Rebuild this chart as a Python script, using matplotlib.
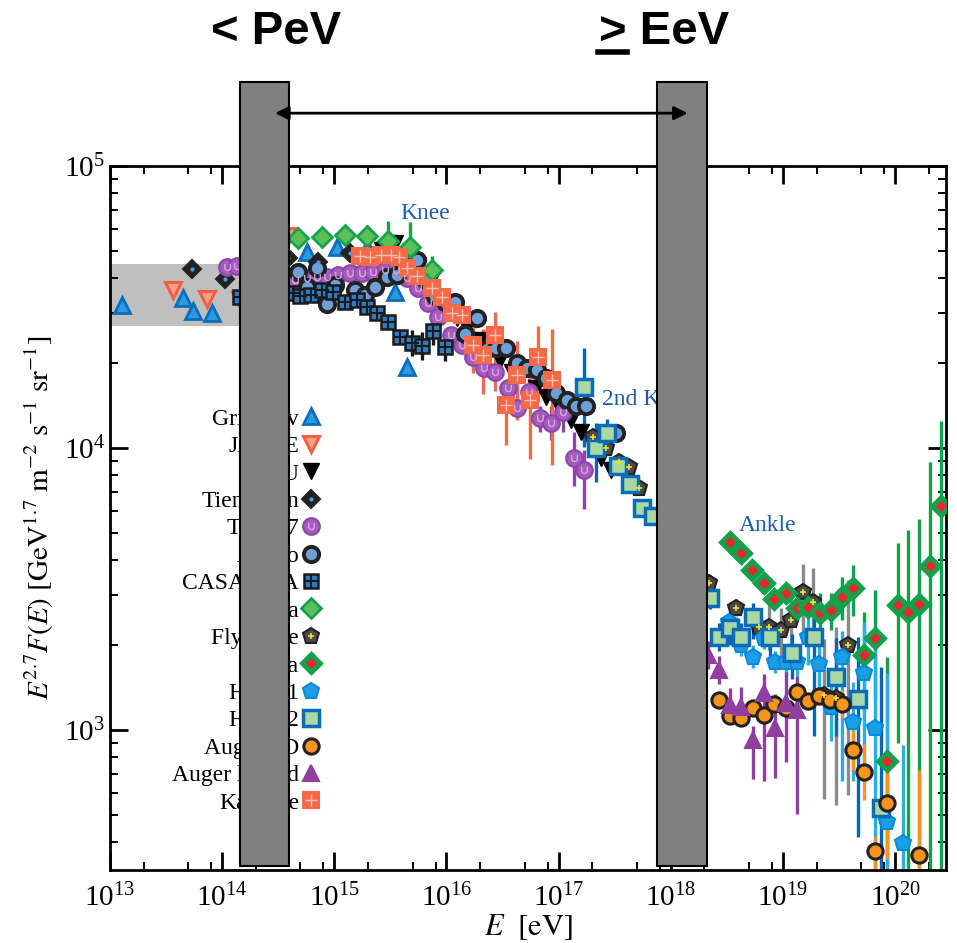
import numpy as np
import matplotlib
matplotlib.use("Agg")
import matplotlib.pyplot as plt
from matplotlib.lines import Line2D
from matplotlib.patches import Rectangle, FancyArrowPatch
from matplotlib.ticker import LogLocator, NullFormatter, FixedLocator
import matplotlib.transforms as mtransforms

plt.rcParams['font.family'] = 'serif'
plt.rcParams['font.serif'] = ['Liberation Serif', 'DejaVu Serif']
plt.rcParams['mathtext.fontset'] = 'stix'

# ---- data: energy E [eV], flux E^2.7 F(E), log10 error up / down ----
grig_E = [1.28e13, 4.49e13, 5.51e13, 8.15e13, 5.74e14, 1.06e15, 1.97e15, 3.51e15, 4.49e15]
grig_F = [32100, 34000, 30600, 30100, 49500, 51600, 51200, 35700, 19400]

jacee_E = [3.65e13, 7.35e13, 1.45e14, 3.88e14]
jacee_F = [36300, 33700, 33500, 56500]

mgu_E = [2.68e15, 3.51e15, 5.62e15, 7.66e15, 1.25e16, 1.54e16, 2.01e16, 3.03e16, 3.88e16,
         6.24e16, 7.66e16, 9.80e16, 1.28e17, 1.57e17, 2.37e17, 2.91e17]
mgu_F = [50400, 53300, 44600, 40400, 28900, 26900, 24100, 20500, 18600,
         16300, 15200, 14200, 12600, 11400, 9230, 8360]

tien_E = [5.40e13, 1.06e14, 3.88e14, 7.19e14, 1.39e15]
tien_F = [43100, 39700, 47200, 45700, 49100]

tibet_E = [1.11e14, 1.36e14, 4.49e14, 5.74e14, 7.05e14, 8.67e14, 1.09e15, 1.39e15, 1.78e15, 2.23e15,
           2.85e15, 3.58e15, 4.49e15, 5.62e15, 6.90e15, 8.49e15, 1.09e16, 1.39e16, 1.74e16, 2.18e16,
           2.74e16, 3.51e16, 4.30e16, 5.40e16, 6.90e16, 8.49e16, 1.09e17, 1.36e17, 1.67e17]
tibet_F = [43900, 44200, 39400, 40100, 40400, 40400, 41000, 41800, 41800, 42100,
           42800, 42800, 40100, 36900, 32700, 29200, 25200, 23200, 21000, 19200,
           18600, 16300, 13900, 15800, 12800, 12300, 13400, 9230, 8360]
tibet_up = [0] * 21 + [.03, .04, .05, .04, .06, .05, .09, .07]
tibet_dn = [0] * 21 + [.03, .04, .05, .05, .06, .07, .10, .14]

akeno_E = [4.77e14, 5.74e14, 7.05e14, 8.67e14, 1.02e15, 1.54e15, 1.89e15, 2.32e15, 2.97e15, 3.66e15,
           4.40e15, 5.51e15, 6.62e15, 7.98e15, 9.79e15, 1.20e16, 1.48e16, 1.89e16, 2.28e16, 2.79e16,
           3.43e16, 4.30e16, 5.18e16, 6.37e16, 7.66e16, 9.40e16, 1.18e17, 1.42e17, 1.74e17, 3.23e17]
akeno_F = [42100, 37200, 43500, 32400, 37800, 36300, 34900, 37200, 40400, 41000,
           46400, 46400, 39400, 34600, 33000, 33000, 25400, 28900, 22400, 22600,
           22600, 20000, 19200, 18900, 17700, 15700, 14800, 14100, 14100, 11300]

casa_E = [1.45e14, 4.30e14, 4.97e14, 6.24e14, 7.82e14, 9.80e14, 1.25e15, 1.60e15, 1.97e15, 2.42e15,
          3.03e15, 3.88e15, 4.97e15, 6.11e15, 7.66e15, 9.79e15]
casa_F = [34300, 35500, 34600, 34900, 36300, 35700, 33000, 33500, 31600, 30100,
          28000, 24800, 23600, 23000, 26000, 22800]
casa_err = [0] * 11 + [.02, .045, .05, .05, .05]

hegra_E = [4.77e14, 7.82e14, 1.25e15, 1.97e15, 3.03e15, 4.77e15, 7.50e15]
hegra_F = [55600, 56000, 56900, 56500, 54200, 51600, 42800]
hegra_err = [0, 0, .02, .04, .07, .09, .05]

fly_E = [2.01e17, 2.63e17, 3.44e17, 4.22e17, 5.18e17, 2.18e18, 3.80e18, 6.11e18, 7.50e18, 9.59e18,
         1.18e19, 1.51e19, 1.85e19, 2.32e19, 2.97e19, 3.80e19]
fly_F = [10900, 10000, 8920, 8570, 7210, 3320, 2710, 2320, 2320, 2260,
         2460, 3090, 2840, 1330, 1300, 2000]
fly_up = [.02, .02, .02, .02, .02, .03, .03, .05, .08, .08, .10, .10, .12, .20, .25, .23]
fly_dn = [.02, .02, .02, .02, .02, .03, .03, .05, .08, .10, .12, .14, .15, .37, .38, .53]

agasa_E = [3.37e18, 4.22e18, 5.28e18, 6.76e18, 8.32e18, 1.06e19, 1.33e19, 1.67e19, 2.14e19, 2.68e19,
           3.37e19, 4.22e19, 5.28e19, 6.62e19, 8.49e19, 1.06e20, 1.31e20, 1.64e20, 2.06e20, 2.58e20]
agasa_F = [4650, 4250, 3690, 3320, 2920, 3060, 2710, 2730, 2600, 2670,
           2960, 3190, 1850, 2120, 776, 2780, 2620, 2800, 3820, 6230]
agasa_up = [0, 0, 0, 0, 0, .03, .035, .04, .07, .06, .07, .08, .15, .17, .37, .22, .29, .30, .37, .30]
agasa_dn = [0, 0, 0, 0, 0, .03, .035, .04, .06, .07, .08, .10, .20, .22, .70, .49, 1.5, 1.5, 1.5, 1.5]

hires1_E = [3.30e18, 4.22e18, 5.40e18, 6.76e18, 8.49e18, 1.06e19, 1.33e19, 1.67e19, 2.10e19, 2.68e19,
            3.37e19, 4.22e19, 5.28e19, 6.62e19, 8.49e19, 1.18e20]
hires1_F = [2420, 2000, 1820, 2120, 1740, 1740, 1740, 2140, 1710, 1210,
            1820, 1070, 1590, 1020, 472, 397]
hires1_up = [.03, .04, .04, .04, .04, .05, .05, .08, .08, .085, .09, .14, .18, .28, .53, .35]
hires1_dn = [.03, .04, .04, .04, .04, .05, .05, .10, .10, .12, .44, .21, .35, .50, 1.5, 1.5]

hires2_E = [1.67e17, 2.14e17, 2.68e17, 3.37e17, 4.30e17, 5.51e17, 6.90e17, 2.23e18, 2.68e18, 3.37e18,
            4.22e18, 5.40e18, 7.66e18, 1.20e19, 1.89e19, 2.97e19, 4.68e19, 7.50e19]
hires2_F = [16400, 10000, 11300, 8630, 7450, 6120, 5740, 2940, 2140, 2300,
            2140, 2520, 2140, 1870, 2140, 1540, 1290, 528]
hires2_up = [.14, .09, .05, .03, .03, .03, .03, .04, .05, .06, .05, .05, .06, .07, .085, .14, .22, .50]
hires2_dn = [.21, .12, .05, .03, .03, .03, .03, .04, .05, .06, .05, .08, .10, .09, .35, .21, .49, 1.5]

augsd_E = [2.68e18, 3.37e18, 4.22e18, 5.40e18, 6.76e18, 8.32e18, 1.06e19, 1.33e19, 1.67e19, 2.10e19,
           2.63e19, 3.37e19, 4.22e19, 5.28e19, 6.62e19, 8.49e19, 1.64e20]
augsd_F = [1280, 1120, 1100, 1200, 1130, 1240, 1200, 1360, 1270, 1320,
           1280, 1240, 849, 710, 372, 551, 361]
augsd_up = [0] * 11 + [.05, .07, .10, .05, .15, .30]
augsd_dn = [0] * 11 + [.05, .07, .10, .10, .20, 1.5]

aughy_E = [2.14e18, 2.68e18, 3.37e18, 4.22e18, 5.40e18, 6.76e18, 8.49e18, 1.06e19, 1.33e19]
aughy_F = [1850, 1630, 1230, 1210, 922, 1350, 1020, 1250, 1180]
aughy_up = [.05, .05, .06, .07, .05, .07, .12, .11, .12]
aughy_dn = [.05, .05, .06, .07, .14, .31, .18, .21, .37]

kasc_E = [1.71e15, 2.10e15, 2.63e15, 3.23e15, 3.80e15, 4.49e15, 5.51e15, 7.50e15, 9.20e15, 1.13e16,
          1.39e16, 1.74e16, 2.14e16, 2.74e16, 3.37e16, 4.30e16, 5.51e16, 6.62e16, 8.83e16]
kasc_F = [48000, 47600, 48300, 48300, 47600, 43500, 40700, 36900, 34300, 30100,
          29600, 23200, 21400, 25200, 14200, 18100, 14800, 21000, 17400]
kasc_up = [0] * 7 + [.02, .02, .03, .05, .07, .09, .08, .07, .12, .09, .11, .18]
kasc_dn = [0] * 7 + [.02, .02, .03, .05, .10, .14, .20, .14, .16, .21, .16, .30]

# grey band of direct measurements, bars of the two energy windows
band_E = [1e13, 2.5e14]
band_F = [27100, 44900]
pev_range = [1.45e14, 3.98e14]
eev_range = [7.5e17, 2.09e18]
x_major = [1e13, 1e14, 1e15, 1e16, 1e17, 1e18, 1e19, 1e20]
y_major = [1e3, 1e4, 1e5]

fig = plt.figure(figsize=(9.57, 9.43), dpi=100)
ax = fig.add_axes([0.1149, 0.0774, 0.8736, 0.7466])

ax.fill_between(band_E, band_F[0], band_F[1], color='#bfbfbf', lw=0, zorder=0.5)

handles = []
labels = []


def series(label, E, F, style, up=None, dn=None, ecolor='k', extra=None):
    E = np.asarray(E, float)
    F = np.asarray(F, float)
    if up is not None:
        up = np.asarray(up, float)
        dn = np.asarray(dn if dn is not None else up, float)
        yerr = [F - F * 10 ** (-dn), F * 10 ** up - F]
        ax.errorbar(E, F, yerr=yerr, fmt='none', ecolor=ecolor, elinewidth=2.4,
                    capsize=0, zorder=2)
    ax.plot(E, F, linestyle='none', zorder=3, **style)
    h = Line2D([], [], linestyle='none', **style)
    if extra is not None:
        ax.plot(E, F, linestyle='none', zorder=3.1, **extra)
        h = (h, Line2D([], [], linestyle='none', **extra))
    handles.append(h)
    labels.append(label)


series('Grigorov', grig_E, grig_F,
       dict(marker='^', ms=12, mfc='#2b9be0', mec='#0a6ebd', mew=2))
series('JACEE', jacee_E, jacee_F,
       dict(marker='v', ms=12, mfc='#f7a088', mec='#f26040', mew=2.2))
series('MGU', mgu_E, mgu_F,
       dict(marker='v', ms=11, mfc='k', mec='k'))
series('Tien-Shan', tien_E, tien_F,
       dict(marker='D', ms=9, mfc='#222222', mec='#222222', mew=1.5),
       extra=dict(marker='o', ms=3, mfc='#5b9bd5', mec='none'))
series('Tibet07', tibet_E, tibet_F,
       dict(marker='o', ms=12, mfc='#a65cbb', mec='#8e44ad', mew=1.5),
       up=tibet_up, dn=tibet_dn, ecolor='#8e44ad',
       extra=dict(marker=r'$\cup$', ms=5, mfc='#d9b0e6', mec='#d9b0e6', mew=0.3))
series('Akeno', akeno_E, akeno_F,
       dict(marker='o', ms=11, mfc='#6f9fd8', mec='#222222', mew=2.8))
series('CASA-MIA', casa_E, casa_F,
       dict(marker='s', ms=10, mfc='#2e7dc4', mec='#1a1a1a', mew=1.8),
       up=casa_err, dn=casa_err, ecolor='#1a1a1a',
       extra=dict(marker='+', ms=10, mec='#1a1a1a', mew=1.5))
series('Hegra', hegra_E, hegra_F,
       dict(marker='D', ms=10, mfc='#5cbf5a', mec='#17a34a', mew=2),
       up=hegra_err, dn=hegra_err, ecolor='#17a34a')
series("Fly's Eye", fly_E, fly_F,
       dict(marker='p', ms=12, mfc='#4a4a4a', mec='#222222', mew=1.5),
       up=fly_up, dn=fly_dn, ecolor='#8a8a8a',
       extra=dict(marker='+', ms=5, mec='#f2e32a', mew=1.2))
series('Agasa', agasa_E, agasa_F,
       dict(marker='D', ms=9, mfc='#e8262b', mec='#12a14b', mew=3.5),
       up=agasa_up, dn=agasa_dn, ecolor='#12a14b')
series('HiRes1', hires1_E, hires1_F,
       dict(marker='p', ms=12, mfc='#1b9ee6', mec='#0a8ad8', mew=1.5),
       up=hires1_up, dn=hires1_dn, ecolor='#29aee6')
series('HiRes2', hires2_E, hires2_F,
       dict(marker='s', ms=11, mfc='#a9d8a5', mec='#0a6cb9', mew=2.5),
       up=hires2_up, dn=hires2_dn, ecolor='#0a64b4')
series('Auger SD', augsd_E, augsd_F,
       dict(marker='o', ms=11, mfc='#f7941d', mec='#222222', mew=2.2),
       up=augsd_up, dn=augsd_dn, ecolor='#f7941d')
series('Auger hybrid', aughy_E, aughy_F,
       dict(marker='^', ms=12, mfc='#8e3f9f', mec='#8e3f9f', mew=1.5),
       up=aughy_up, dn=aughy_dn, ecolor='#8e3f9f')
series('Kascade', kasc_E, kasc_F,
       dict(marker='s', ms=11, mfc='#f36a4a', mec='#f36a4a', mew=1.5),
       up=kasc_up, dn=kasc_dn, ecolor='#f36a4a',
       extra=dict(marker='+', ms=9, mec='#f9c2b0', mew=1))

leg = ax.legend(handles, labels, loc='upper right', bbox_to_anchor=(0.249, 0.656),
                frameon=False, markerfirst=False, fontsize=17, labelspacing=0.25,
                handlelength=0.6, handletextpad=0.2, borderpad=0, borderaxespad=0)
leg.set_zorder(5)

ann_color = '#1f5ea8'
ax.text(3.9e15, 68100, 'Knee', color=ann_color, fontsize=17, va='center', ha='left')
ax.text(2.46e17, 14800, '2nd Knee', color=ann_color, fontsize=17, va='center', ha='left')
ax.text(4.05e18, 5330, 'Ankle', color=ann_color, fontsize=17, va='center', ha='left')

ax.set_xscale('log')
ax.set_yscale('log')
ax.xaxis.set_major_locator(FixedLocator(x_major))
ax.xaxis.set_minor_locator(LogLocator(base=10, subs=[2, 5, 8], numticks=20))
ax.xaxis.set_minor_formatter(NullFormatter())
ax.yaxis.set_major_locator(FixedLocator(y_major))
ax.yaxis.set_minor_locator(LogLocator(base=10, subs=np.arange(2, 10), numticks=20))
ax.yaxis.set_minor_formatter(NullFormatter())
ax.tick_params(which='both', direction='in', top=True, right=True, labelsize=21)
ax.tick_params(which='major', length=13, width=2)
ax.tick_params(which='minor', length=6, width=1.4)
ax.tick_params(axis='x', pad=10)
for s in ax.spines.values():
    s.set_linewidth(2)

ax.set_xlabel(r'$E\ \ [\mathrm{eV}]$', fontsize=22, labelpad=0)
ax.set_ylabel(r'$E^{2.7}F(E)\ [\mathrm{GeV}^{1.7}\ \mathrm{m}^{-2}\ \mathrm{s}^{-1}\ \mathrm{sr}^{-1}]$',
              fontsize=21, labelpad=6)

# energy windows: x in data, y in figure fraction
trans = mtransforms.blended_transform_factory(ax.transData, fig.transFigure)
for lo, hi in (pev_range, eev_range):
    ax.add_patch(Rectangle((lo, 0.0817), hi - lo, 0.8314, transform=trans,
                           facecolor='#808080', edgecolor='k', lw=1.5,
                           clip_on=False, zorder=10))
arrow = FancyArrowPatch((2.8e14, 0.880), (1.5e18, 0.880), transform=trans,
                        arrowstyle='<|-|>', mutation_scale=20, lw=2, color='k',
                        clip_on=False, zorder=11)
ax.add_patch(arrow)

ax.set_xlim(1e13, 2.85e20)
ax.set_ylim(319, 1e5)

head_font = ['Liberation Sans Narrow', 'Liberation Sans', 'DejaVu Sans']
fig.text(0.288, 0.966, '< PeV', ha='center', va='center', fontsize=34,
         fontweight='bold', family=head_font)
fig.text(0.694, 0.966, '> EeV', ha='center', va='center', fontsize=34,
         fontweight='bold', family=head_font)
# underline turning ">" into "greater or equal"
fig.add_artist(Line2D([0.625, 0.655], [0.945, 0.945], lw=4, color='k',
                      transform=fig.transFigure))

fig.savefig('out.png', dpi=100)
